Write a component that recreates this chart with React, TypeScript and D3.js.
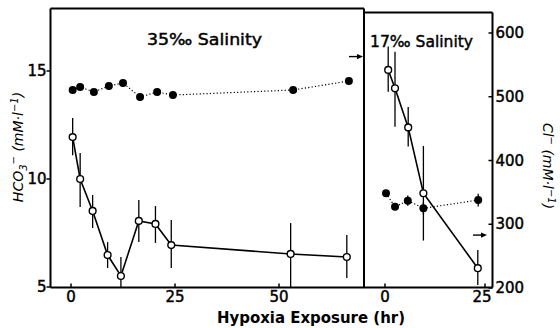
import React from 'react';
import * as d3 from 'd3';

// 35‰ salinity panel
const hco3Hours35 = [0.4, 2.2, 5.2, 8.8, 12.0, 16.3, 20.3, 24.1, 52.8, 66.3];
const hco3Values35 = [11.94, 10.0, 8.52, 6.48, 5.51, 8.06, 7.92, 6.94, 6.53, 6.39];
const hco3Hi35 = [12.82, 11.2, 9.26, 7.08, 6.39, 9.03, 8.75, 8.1, 7.96, 7.41];
const hco3Lo35 = [11.1, 8.7, 7.73, 5.88, 5.0, 7.08, 7.04, 5.88, 5.0, 5.42];
const clHours35 = [0.4, 2.2, 5.5, 9.1, 12.5, 16.6, 20.7, 24.5, 53.4, 66.8];
const clValues35 = [510.6, 515.3, 507.5, 516.9, 521.6, 499.6, 507.5, 502.7, 510.6, 524.7];

// 17‰ salinity panel
const hco3Hours17 = [0.8, 2.5, 5.8, 9.6, 23.2];
const hco3Values17 = [15.05, 14.2, 12.39, 9.34, 5.87];
const hco3Hi17 = [16.13, 15.89, 13.33, 11.53, 6.71];
const hco3Lo17 = [14.04, 12.42, 11.5, 7.15, 5.09];
const clHours17 = [0.25, 2.5, 5.7, 9.6, 23.3];
const clValues17 = [348.5, 327.5, 337, 325, 338];
const clErr17 = [0, 0, 8, 10, 10];

// seawater chloride markers (arrows)
const seawaterCl = [563, 283];

const xTicksLeft = [0, 25, 50];
const xTicksRight = [0, 25];
const hco3Ticks = [5, 10, 15];
const clTicks = [200, 300, 400, 500, 600];

const FONT = "'DejaVu Sans', sans-serif";

export default function App() {
  const W = 560, H = 328;
  const xL = d3.scaleLinear().domain([0, 25]).range([71, 175]);
  const xR = d3.scaleLinear().domain([0, 25]).range([385, 485]);
  const yH = d3.scaleLinear().domain([5, 15]).range([287, 71]);
  const yC = d3.scaleLinear().domain([200, 600]).range([288, 33]);

  const left = 50.5, divider = 364, right = 492.5, bottom = 287.5, topL = 8.5, topR = 12.5;

  const openLine = (hrs: number[], vals: number[], x: d3.ScaleLinear<number, number>) =>
    d3.line<number>().x((_, i) => x(hrs[i])).y((d) => yH(d))(vals) || '';
  const clLine = (hrs: number[], vals: number[], x: d3.ScaleLinear<number, number>) =>
    d3.line<number>().x((_, i) => x(hrs[i])).y((d) => yC(d))(vals) || '';

  const arrow = (xEnd: number, y: number, key: string) => (
    <g key={key}>
      <line x1={xEnd - 14} x2={xEnd - 4} y1={y} y2={y} stroke="#000" strokeWidth={1.4} />
      <path d={`M${xEnd},${y} L${xEnd - 6},${y - 2.6} L${xEnd - 6},${y + 2.6} Z`} fill="#000" />
    </g>
  );

  const thick = { stroke: '#000', strokeWidth: 0.45 };

  return (
    <svg width={W} height={H} style={{ position: 'absolute', left: 0, top: 0, background: '#fff' }} fontFamily={FONT}>
      <rect width={W} height={H} fill="#fff" />
      {/* frame */}
      <line x1={left} x2={left} y1={topL} y2={bottom} stroke="#000" strokeWidth={2} />
      <line x1={left} x2={divider} y1={topL} y2={topL} stroke="#000" strokeWidth={2} />
      <line x1={divider} x2={right} y1={topR} y2={topR} stroke="#000" strokeWidth={2} />
      <line x1={divider} x2={divider} y1={topL} y2={bottom} stroke="#000" strokeWidth={2} />
      <line x1={right} x2={right} y1={topR} y2={bottom} stroke="#000" strokeWidth={2} />
      <line x1={left} x2={right} y1={bottom} y2={bottom} stroke="#000" strokeWidth={2} />

      {/* left axis ticks */}
      {hco3Ticks.map((t) => (
        <g key={'h' + t}>
          <line x1={left - 4} x2={left} y1={yH(t)} y2={yH(t)} stroke="#000" strokeWidth={1.5} />
          <text x={left - 4} y={yH(t) + 5} textAnchor="end" fontSize={15} {...thick}>{t}</text>
        </g>
      ))}
      {/* right axis ticks */}
      {clTicks.map((t) => (
        <g key={'c' + t}>
          <line x1={right - 4} x2={right} y1={yC(t)} y2={yC(t)} stroke="#000" strokeWidth={1.5} />
          <text x={right + 3} y={yC(t) + 5} textAnchor="start" fontSize={15} {...thick}>{t}</text>
        </g>
      ))}
      {/* x ticks */}
      {xTicksLeft.map((t) => (
        <g key={'xl' + t}>
          <line x1={xL(t)} x2={xL(t)} y1={bottom - 4} y2={bottom} stroke="#000" strokeWidth={1.5} />
          <text x={xL(t)} y={302} textAnchor="middle" fontSize={15} {...thick}>{t}</text>
        </g>
      ))}
      {xTicksRight.map((t) => (
        <g key={'xr' + t}>
          <line x1={xR(t)} x2={xR(t)} y1={bottom - 4} y2={bottom} stroke="#000" strokeWidth={1.5} />
          <text x={xR(t) - (t === 25 ? 3 : 0)} y={302} textAnchor="middle" fontSize={15} {...thick}>{t}</text>
        </g>
      ))}

      {/* axis titles */}
      <text x={311} y={323} textAnchor="middle" fontSize={15} fontWeight="bold" textLength={188} lengthAdjust="spacingAndGlyphs">
        Hypoxia Exposure (hr)
      </text>
      <text transform="translate(23,147) rotate(-90)" textAnchor="middle" fontSize={14} fontStyle="italic">
        HCO<tspan fontSize={10} dy={4}>3</tspan><tspan fontSize={10} dy={-10}>−</tspan><tspan dy={6}> (mM·l</tspan><tspan fontSize={10} dy={-5}>−1</tspan><tspan dy={5}>)</tspan>
      </text>
      <text transform="translate(543,166) rotate(90)" textAnchor="middle" fontSize={14} fontStyle="italic">
        Cl<tspan fontSize={10} dy={-5}>−</tspan><tspan dy={5}> (mM·l</tspan><tspan fontSize={10} dy={-5}>−1</tspan><tspan dy={5}>)</tspan>
      </text>

      {/* panel titles */}
      <text x={147} y={45} fontSize={16} textLength={115} lengthAdjust="spacingAndGlyphs" {...thick}>35‰ Salinity</text>
      <text x={370} y={47} fontSize={16} textLength={103} lengthAdjust="spacingAndGlyphs" {...thick}>17‰ Salinity</text>

      {/* arrows */}
      {arrow(363, yC(seawaterCl[0]), 'a0')}
      {arrow(487, yC(seawaterCl[1]), 'a1')}

      {/* 35‰ chloride (filled, dotted) */}
      <path d={clLine(clHours35, clValues35, xL)} fill="none" stroke="#000" strokeWidth={1.2} strokeDasharray="1.2 2.2" />
      {/* 35‰ bicarbonate (open, solid) */}
      {hco3Hours35.map((h, i) => (
        <line key={'e35' + i} x1={xL(h)} x2={xL(h)} y1={yH(hco3Hi35[i])} y2={yH(hco3Lo35[i])} stroke="#000" strokeWidth={1.3} />
      ))}
      <path d={openLine(hco3Hours35, hco3Values35, xL)} fill="none" stroke="#000" strokeWidth={1.6} />
      {clHours35.map((h, i) => (
        <circle key={'c35' + i} cx={xL(h)} cy={yC(clValues35[i])} r={4} fill="#000" />
      ))}
      {hco3Hours35.map((h, i) => (
        <circle key={'o35' + i} cx={xL(h)} cy={yH(hco3Values35[i])} r={3.4} fill="#fff" stroke="#000" strokeWidth={1.4} />
      ))}

      {/* 17‰ */}
      <path d={clLine(clHours17, clValues17, xR)} fill="none" stroke="#000" strokeWidth={1.2} strokeDasharray="1.2 2.2" />
      {clHours17.map((h, i) => clErr17[i] > 0 ? (
        <line key={'ce17' + i} x1={xR(h)} x2={xR(h)} y1={yC(clValues17[i] + clErr17[i])} y2={yC(clValues17[i] - clErr17[i])} stroke="#000" strokeWidth={1.3} />
      ) : null)}
      {hco3Hours17.map((h, i) => (
        <line key={'e17' + i} x1={xR(h)} x2={xR(h)} y1={yH(hco3Hi17[i])} y2={yH(hco3Lo17[i])} stroke="#000" strokeWidth={1.3} />
      ))}
      <path d={openLine(hco3Hours17, hco3Values17, xR)} fill="none" stroke="#000" strokeWidth={1.6} />
      {clHours17.map((h, i) => (
        <circle key={'c17' + i} cx={xR(h)} cy={yC(clValues17[i])} r={4} fill="#000" />
      ))}
      {hco3Hours17.map((h, i) => (
        <circle key={'o17' + i} cx={xR(h)} cy={yH(hco3Values17[i])} r={3.4} fill="#fff" stroke="#000" strokeWidth={1.4} />
      ))}
    </svg>
  );
}
